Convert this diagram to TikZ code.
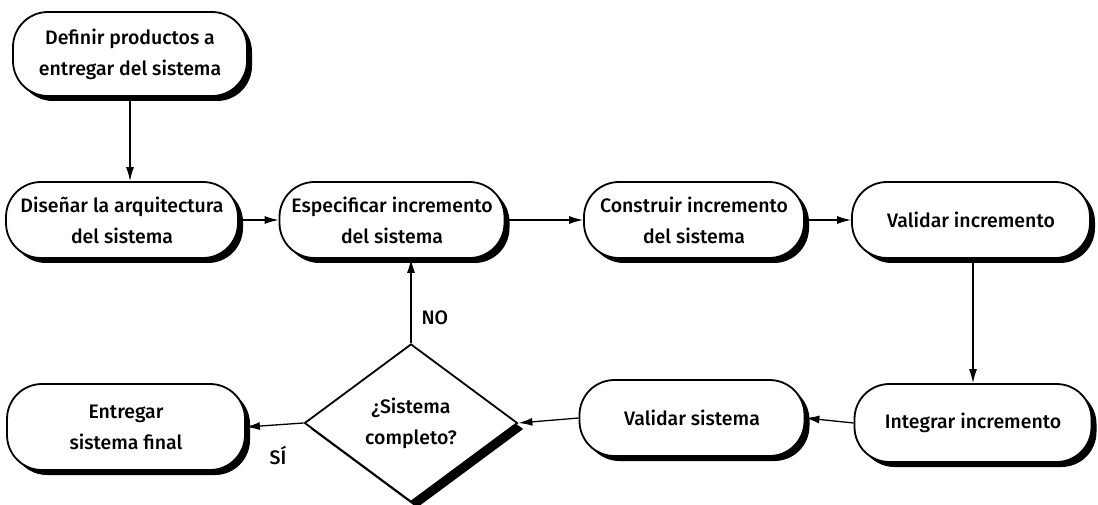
\documentclass[tikz,border=0pt]{standalone}
\usepackage{fontspec}
\setmainfont{Fira Sans}[UprightFont=* Medium]
\usetikzlibrary{shapes.geometric,shadows,arrows.meta}
\begin{document}
\begin{tikzpicture}[x=1pt,y=-1pt,
  proc/.style={draw=black, line width=1.8pt, fill=white, rectangle, rounded corners=35pt,
    align=center, font=\fontsize{19.5}{31}\selectfont, inner sep=2pt,
    drop shadow={shadow xshift=5pt, shadow yshift=-5pt, opacity=1, fill=black}},
  decis/.style={draw=black, line width=1.8pt, fill=white, diamond, aspect=1.35,
    align=center, font=\fontsize{19.5}{31}\selectfont, inner sep=0pt,
    drop shadow={shadow xshift=6pt, shadow yshift=-6pt, opacity=1, fill=black}},
  arr/.style={line width=1.3pt, -{Latex[length=14pt,width=8pt]}},
  lbl/.style={font=\fontsize{19.5}{24}\selectfont}]
\useasboundingbox (0,0) rectangle (1098,505);
\node[proc, minimum width=234pt, minimum height=84pt] (A) at (130,54) {Definir productos a\\entregar del sistema};
\node[proc, minimum width=232pt, minimum height=76pt] (B) at (122,220) {Diseñar la arquitectura\\del sistema};
\node[proc, minimum width=225pt, minimum height=76pt] (C) at (392,220) {Especificar incremento\\del sistema};
\node[proc, minimum width=220pt, minimum height=76pt] (D) at (694,220) {Construir incremento\\del sistema};
\node[proc, minimum width=238pt, minimum height=76pt] (E) at (971,220) {Validar incremento};
\node[proc, minimum width=237pt, minimum height=78pt] (F) at (973,423) {Integrar incremento};
\node[proc, minimum width=225pt, minimum height=76pt] (G) at (692,418) {Validar sistema};
\node[decis, minimum width=213pt, minimum height=158pt] (H) at (411,423) {¿Sistema\\completo?};
\node[proc, minimum width=238pt, minimum height=86pt] (I) at (126,427) {Entregar\\sistema final};
\draw[arr] (A.south) -- (A.south |- B.north);
\draw[arr] (B.east) -- (C.west);
\draw[arr] (C.east) -- (D.west);
\draw[arr] (D.east) -- (E.west);
\draw[arr] (E.south -| F.north) -- (F.north);
\draw[arr] (F.west) -- (G.east);
\draw[arr] (G.west) -- (H.east);
\draw[arr] (H.west) -- (I.east);
\draw[arr] (H.north) -- (H.north |- C.south);
\node[lbl, anchor=west] (no) at (418,318) {NO};
\node[lbl] (si) at (278,456) {SÍ};
\end{tikzpicture}
\end{document}
